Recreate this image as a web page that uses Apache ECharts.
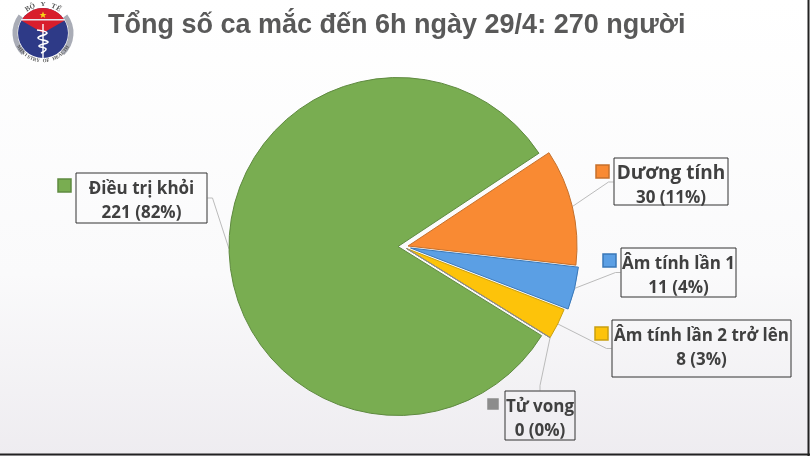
<!DOCTYPE html>
<html>
<head>
<meta charset="utf-8">
<style>html,body{margin:0;padding:0;background:#fff}#main{width:810px;height:456px}</style>
<script src="https://cdn.jsdelivr.net/npm/echarts@6/dist/echarts.min.js"></script>
</head>
<body>
<div id="main"></div>
<script>
var titleText = 'Tổng số ca mắc đến 6h ngày 29/4: 270 người';
var categories = ['Dương tính', 'Âm tính lần 1', 'Âm tính lần 2 trở lên', 'Tử vong', 'Điều trị khỏi'];
var values = [30, 11, 8, 0, 221];
var colors = ['#f98a33', '#5b9fe4', '#fdc30a', '#8c8c8c', '#79ad51'];
var strokes = ['#c5702c', '#3a78b8', '#c9a010', '#8c8c8c', '#5f8a40'];
// every slice is pulled out a little, so each one gets its own pie center
var centers = [[408, 246], [410.5, 248], [406.5, 248.5], [406.5, 248.5], [398, 246.5]];
// label boxes [x, y, w, h] and the little key square next to them [x, y, size]
var boxes = [[613, 157, 116, 49], [620, 247, 117, 51], [611, 319, 181, 59], [504, 390, 72, 51], [75, 172, 133, 52]];
var keys = [[596, 165, 13], [603, 254, 13], [595, 327, 13], [488, 399, 10], [58, 179, 13]];
var nameSizes = [19, 17, 17, 17, 17];

var chart = echarts.init(document.getElementById('main'));

var logoX = 43, logoY = 33;
var graphics = [
  { type: 'text', left: 108, top: 12, style: { text: titleText, fill: '#595959', font: 'bold 27px "Liberation Sans"' } },
  { type: 'arc', shape: { cx: logoX, cy: logoY, r: 28, startAngle: -0.65, endAngle: 0.8 }, style: { stroke: '#a9acb6', fill: null, lineWidth: 5 } },
  { type: 'arc', shape: { cx: logoX, cy: logoY, r: 28, startAngle: 2.34, endAngle: 3.79 }, style: { stroke: '#a9acb6', fill: null, lineWidth: 5 } },
  { type: 'circle', shape: { cx: logoX, cy: logoY, r: 25 }, style: { fill: '#2e3a87' } },
  { type: 'sector', shape: { cx: logoX, cy: logoY, r: 25, r0: 0, startAngle: -2.62, endAngle: -0.52 }, style: { fill: '#d81e2c' } },
  { type: 'rect', shape: { x: logoX - 22, y: 19, width: 44, height: 1.5 }, style: { fill: '#e8e8f0' } },
  { type: 'polygon', shape: { points: [[43, 11.5], [44, 14], [46.5, 14], [44.5, 15.6], [45.2, 18], [43, 16.6], [40.8, 18], [41.5, 15.6], [39.5, 14], [42, 14]] }, style: { fill: '#f7d417' } },
  { type: 'line', shape: { x1: 43, y1: 24, x2: 43, y2: 58 }, style: { stroke: '#fff', lineWidth: 1.4 } },
  { type: 'polyline', shape: { points: [[37, 30], [47, 33], [38, 38], [48, 42], [39, 46], [46, 49], [41, 53]], smooth: 0.5 }, style: { stroke: '#fff', fill: null, lineWidth: 1.6 } }
];

// round text of the logo, one letter at a time
function roundText(str, r, mid, step, font) {
  for (var i = 0; i < str.length; i++) {
    var a = mid + (i - (str.length - 1) / 2) * step;
    graphics.push({
      type: 'text',
      x: logoX + r * Math.sin(a),
      y: logoY - r * Math.cos(a),
      rotation: mid - a,
      style: { text: str[i], fill: '#555', font: font, align: 'center', verticalAlign: 'middle' }
    });
  }
}
roundText('BỘ Y TẾ', 28.5, 0, 0.19, 'bold 7px "Liberation Serif"');
roundText('MINISTRY OF HEALTH', 28, Math.PI, -0.12, 'bold 5px "Liberation Serif"');

// key squares
keys.forEach(function (k, i) {
  graphics.push({ type: 'rect', shape: { x: k[0], y: k[1], width: k[2], height: k[2] }, style: { fill: colors[i], stroke: strokes[i], lineWidth: 1.5 } });
});
// frame of the video on the right and the bottom
graphics.push({ type: 'line', shape: { x1: 808.5, y1: 0, x2: 808.5, y2: 456 }, style: { stroke: '#222', lineWidth: 2 } });
graphics.push({ type: 'line', shape: { x1: 0, y1: 454.5, x2: 810, y2: 454.5 }, style: { stroke: '#222', lineWidth: 2 } });

// one pie per slice, all with the same values so the angles stay the same
function sliceSeries(i) {
  return {
    type: 'pie',
    center: centers[i],
    radius: 169,
    startAngle: 33.5,
    percentPrecision: 0,
    stillShowZeroSum: true,
    minShowLabelAngle: 0,
    silent: true,
    emphasis: { disabled: true },
    data: categories.map(function (name, j) {
      return {
        name: name,
        value: values[j],
        itemStyle: j === i
          ? { color: colors[j], borderColor: strokes[j], borderWidth: 1 }
          : { color: 'transparent', borderWidth: 0 },
        label: { show: j === i },
        labelLine: { show: j === i }
      };
    }),
    label: {
      formatter: '{name|{b}}\n{c} ({d}%)',
      rich: { name: { fontSize: nameSizes[i], lineHeight: 24, fontWeight: 'bold', fontFamily: 'Open Sans', color: '#404040' } },
      color: '#404040',
      fontFamily: 'Open Sans',
      fontWeight: 'bold',
      fontSize: 17,
      lineHeight: 24,
      align: 'center',
      verticalAlign: 'middle',
      width: boxes[i][2] - 2,
      height: boxes[i][3] - 6,
      padding: [4, 0, 0, 0],
      borderColor: '#333',
      borderWidth: 1
    },
    labelLine: { length: 15, length2: 5, lineStyle: { color: '#bbb', width: 1 } },
    labelLayout: function () {
      var b = boxes[i];
      return { x: b[0] + b[2] / 2, y: b[1] + b[3] / 2, align: 'center', verticalAlign: 'middle' };
    }
  };
}

chart.setOption({
  animation: false,
  backgroundColor: {
    type: 'linear', x: 0, y: 0, x2: 0, y2: 1,
    colorStops: [{ offset: 0, color: '#ffffff' }, { offset: 0.6, color: '#fafafb' }, { offset: 1, color: '#eeecf0' }]
  },
  graphic: graphics,
  series: categories.map(function (name, i) { return sliceSeries(i); })
});
</script>
</body>
</html>
